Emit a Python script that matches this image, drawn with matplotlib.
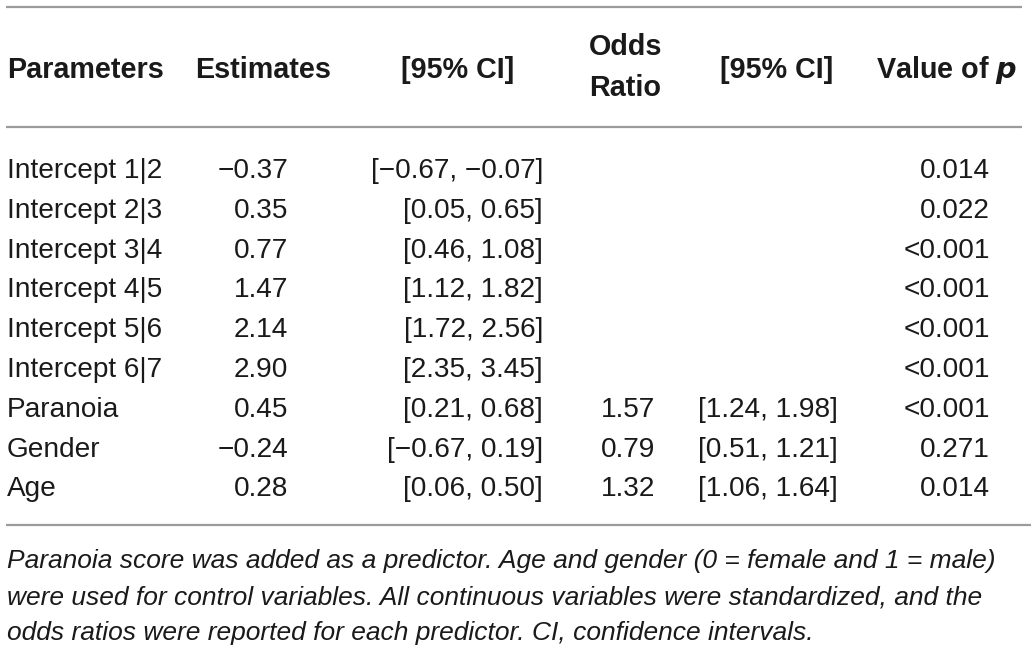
import matplotlib
matplotlib.use("Agg")
import matplotlib.pyplot as plt

# ---- data ----
parameters = ["Intercept 1|2", "Intercept 2|3", "Intercept 3|4", "Intercept 4|5",
              "Intercept 5|6", "Intercept 6|7", "Paranoia", "Gender", "Age"]
estimates = ["\u22120.37", "0.35", "0.77", "1.47", "2.14", "2.90", "0.45", "\u22120.24", "0.28"]
est_ci = ["[\u22120.67, \u22120.07]", "[0.05, 0.65]", "[0.46, 1.08]", "[1.12, 1.82]",
          "[1.72, 2.56]", "[2.35, 3.45]", "[0.21, 0.68]", "[\u22120.67, 0.19]", "[0.06, 0.50]"]
odds_ratio = ["", "", "", "", "", "", "1.57", "0.79", "1.32"]
or_ci = ["", "", "", "", "", "", "[1.24, 1.98]", "[0.51, 1.21]", "[1.06, 1.64]"]
p_values = ["0.014", "0.022", "<0.001", "<0.001", "<0.001", "<0.001", "<0.001", "0.271", "0.014"]
footnote = ["Paranoia score was added as a predictor. Age and gender (0 = female and 1 = male)",
            "were used for control variables. All continuous variables were standardized, and the",
            "odds ratios were reported for each predictor. CI, confidence intervals."]

W, H = 1035, 653
fig = plt.figure(figsize=(W / 100, H / 100), dpi=100)
ax = fig.add_axes([0, 0, 1, 1])
ax.set_xlim(0, W)
ax.set_ylim(H, 0)
ax.axis("off")

FONT = "Liberation Sans"
TXT = "#1a1a1a"
LINE = "#9b9b9b"
HFS = 20.7
DFS = 20.2
FFS = 19

# rules
ax.plot([6, 1022], [7, 7], color=LINE, lw=1.6, solid_capstyle="butt")
ax.plot([6, 1022], [127, 127], color=LINE, lw=1.6, solid_capstyle="butt")
ax.plot([6, 1031], [525, 525], color=LINE, lw=1.6, solid_capstyle="butt")

# header
hb = 78
hkw = dict(fontfamily=FONT, fontweight="bold", fontsize=HFS, color=TXT, va="baseline")
ax.text(7, hb, "Parameters", ha="left", **hkw)
ax.text(195, hb, "Estimates", ha="left", **hkw)
ax.text(514, hb, "[95% CI]", ha="right", **hkw)
ax.text(589, 55, "Odds", ha="left", **hkw)
ax.text(589, 96, "Ratio", ha="left", **hkw)
ax.text(720, hb, "[95% CI]", ha="left", **hkw)
ax.text(1017, hb, "Value of $\\boldsymbol{p}$", ha="right", **hkw)

# body
dkw = dict(fontfamily=FONT, fontsize=DFS, color=TXT, va="baseline")
for i in range(len(parameters)):
    y = 178 + 39.8 * i
    ax.text(7, y, parameters[i], ha="left", **dkw)
    ax.text(288, y, estimates[i], ha="right", **dkw)
    ax.text(543, y, est_ci[i], ha="right", **dkw)
    ax.text(655, y, odds_ratio[i], ha="right", **dkw)
    ax.text(838, y, or_ci[i], ha="right", **dkw)
    ax.text(990, y, p_values[i], ha="right", **dkw)

# footnote
for j, line in enumerate(footnote):
    ax.text(7, 568 + 36 * j, line, ha="left", va="baseline", fontfamily=FONT,
            fontstyle="italic", fontsize=FFS, color=TXT)

fig.savefig("out.png", dpi=100)
